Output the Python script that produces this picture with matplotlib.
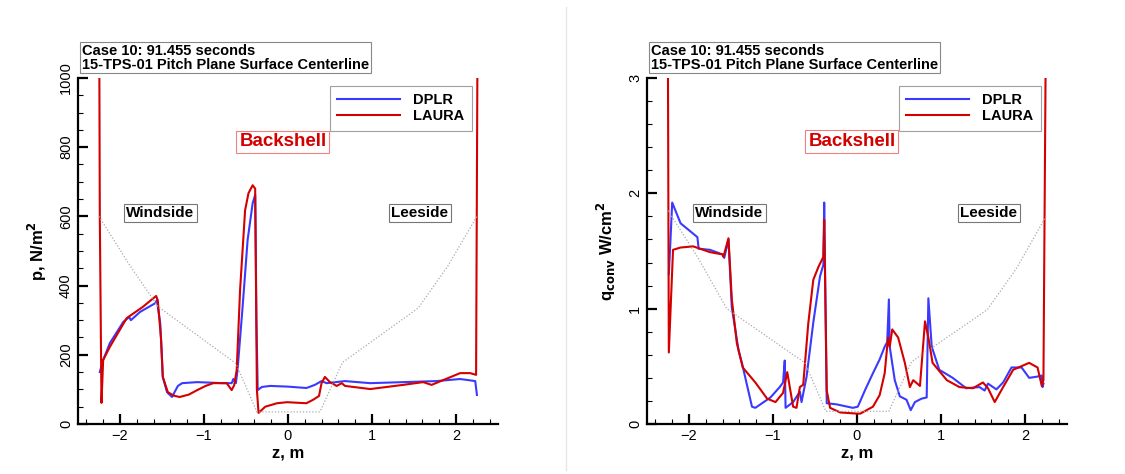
import matplotlib
matplotlib.use("Agg")
import matplotlib.pyplot as plt
from matplotlib.ticker import MultipleLocator
from matplotlib.lines import Line2D

plt.rcParams['font.family'] = ['Liberation Sans', 'DejaVu Sans']

# ---- pressure, left panel ----
z_dplr_p = [-2.24, -2.2, -2.12, -1.96, -1.89, -1.87, -1.76, -1.58, -1.56, -1.52, -1.49, -1.44,
            -1.38, -1.35, -1.31, -1.26, -1.08, -0.77, -0.67, -0.65, -0.62, -0.6, -0.54, -0.48,
            -0.42, -0.39, -0.375, -0.36, -0.31, -0.21, 0.0, 0.22, 0.32, 0.4, 0.46, 0.68, 0.98,
            1.77, 2.05, 2.23, 2.25]
p_dplr = [150, 185, 234, 295, 309, 300, 324, 349, 358, 290, 136, 92,
          78, 92, 110, 118, 121, 118, 118, 130, 118, 156, 338, 532,
          638, 662, 300, 98, 107, 110, 108, 104, 113, 124, 118, 124, 118,
          124, 130, 124, 84]

z_laura_p = [-2.245, -2.24, -2.22, -2.2, -2.12, -1.92, -1.73, -1.57, -1.55, -1.51, -1.49, -1.43,
             -1.36, -1.29, -1.18, -1.08, -0.98, -0.89, -0.73, -0.67, -0.64, -0.61, -0.57, -0.51,
             -0.47, -0.42, -0.39, -0.37, -0.35, -0.27, -0.13, -0.01, 0.22, 0.3, 0.37, 0.4, 0.44,
             0.5, 0.58, 0.64, 0.68, 0.98, 1.37, 1.61, 1.71, 1.85, 2.05, 2.17, 2.24, 2.255]
p_laura = [1000, 600, 61, 185, 223, 306, 338, 370, 358, 243, 136, 92,
           82, 78, 85, 98, 110, 118, 118, 98, 112, 156, 387, 618,
           667, 690, 680, 100, 32, 50, 60, 63, 60, 70, 81, 118, 136,
           121, 110, 118, 110, 101, 113, 121, 113, 127, 147, 147, 142, 1000]

# geometry outline (dotted)
z_geo = [-2.25, -1.9, -1.55, -0.62, -0.37, 0.38, 0.65, 1.55, 1.9, 2.25]
p_geo = [600, 465, 340, 175, 35, 35, 178, 335, 455, 600]

# ---- heating, right panel ----
z_dplr_q = [-2.24, -2.22, -2.2, -2.1, -1.9, -1.885, -1.75, -1.6, -1.58, -1.53, -1.49, -1.41,
            -1.37, -1.25, -1.21, -1.03, -0.92, -0.88, -0.86, -0.85, -0.76, -0.68, -0.66, -0.6,
            -0.52, -0.44, -0.40, -0.39, -0.36, -0.24, -0.05, 0.01, 0.1, 0.19, 0.27, 0.33, 0.36,
            0.38, 0.39, 0.45, 0.51, 0.59, 0.64, 0.69, 0.77, 0.83, 0.85, 0.89, 0.98, 1.14, 1.30,
            1.46, 1.52, 1.56, 1.6, 1.66, 1.74, 1.84, 1.96, 2.05, 2.14, 2.2, 2.21, 2.22]
q_dplr = [1.3, 1.6, 1.92, 1.74, 1.62, 1.52, 1.51, 1.47, 1.44, 1.6, 1.01, 0.64,
          0.53, 0.15, 0.14, 0.23, 0.32, 0.36, 0.55, 0.14, 0.19, 0.28, 0.19, 0.41,
          0.88, 1.28, 1.38, 1.92, 0.18, 0.17, 0.14, 0.15, 0.3, 0.44, 0.56, 0.67, 0.71,
          1.08, 0.67, 0.38, 0.24, 0.21, 0.12, 0.19, 0.22, 0.23, 1.09, 0.67, 0.47, 0.40, 0.31,
          0.32, 0.29, 0.35, 0.33, 0.3, 0.36, 0.49, 0.49, 0.40, 0.41, 0.42, 0.32, 0.35]

z_laura_q = [-2.25, -2.24, -2.19, -2.1, -1.95, -1.75, -1.6, -1.59, -1.53, -1.49, -1.43, -1.36,
             -1.21, -1.07, -0.97, -0.88, -0.83, -0.80, -0.76, -0.72, -0.68, -0.64, -0.58, -0.52,
             -0.46, -0.40, -0.39, -0.36, -0.32, -0.2, 0.0, 0.04, 0.19, 0.27, 0.33, 0.37, 0.39,
             0.42, 0.49, 0.57, 0.63, 0.67, 0.75, 0.81, 0.85, 0.90, 1.07, 1.22, 1.38, 1.5, 1.56,
             1.64, 1.74, 1.86, 2.05, 2.15, 2.2, 2.22, 2.245]
q_laura = [3.0, 0.62, 1.51, 1.53, 1.54, 1.49, 1.47, 1.45, 1.61, 1.08, 0.70, 0.49,
           0.36, 0.22, 0.19, 0.27, 0.45, 0.32, 0.15, 0.14, 0.32, 0.34, 0.87, 1.25,
           1.36, 1.45, 1.77, 0.29, 0.14, 0.10, 0.09, 0.09, 0.15, 0.25, 0.44, 0.75, 0.67,
           0.82, 0.75, 0.53, 0.32, 0.38, 0.33, 0.89, 0.75, 0.53, 0.38, 0.32, 0.31, 0.36, 0.31,
           0.19, 0.32, 0.47, 0.53, 0.49, 0.33, 0.38, 3.0]

q_geo = [1.85, 1.45, 1.0, 0.53, 0.11, 0.11, 0.54, 0.99, 1.35, 1.8]

blue = '#3a3aff'
red = '#d40000'
title = 'Case 10: 91.455 seconds\n15-TPS-01 Pitch Plane Surface Centerline'


def setup(ax, geo, ymax, ymajor, yminor, ylabel, ytxt, yback):
    ax.plot(z_geo, geo, color='#aaaaaa', lw=0.9, ls=(0, (1, 1.5)))
    ax.set_xlim(-2.5, 2.5)
    ax.set_ylim(0, ymax)
    for s in ['top', 'right']:
        ax.spines[s].set_visible(False)
    for s in ['left', 'bottom']:
        ax.spines[s].set_linewidth(1.6)
    ax.xaxis.set_major_locator(MultipleLocator(1))
    ax.xaxis.set_minor_locator(MultipleLocator(0.2))
    ax.yaxis.set_major_locator(MultipleLocator(ymajor))
    ax.yaxis.set_minor_locator(MultipleLocator(yminor))
    ax.tick_params(which='major', direction='in', length=7, width=1.6, labelsize=10.5)
    ax.tick_params(which='minor', direction='in', length=3.5, width=0.8)
    for lb in ax.get_yticklabels():
        lb.set_rotation(90)
        lb.set_va('center')
    ax.set_xlabel('z, m', fontsize=12, fontweight='bold', labelpad=2)
    ax.set_ylabel(ylabel, fontsize=12, fontweight='bold', labelpad=7)

    ax.text(0.01, 1.018, title, transform=ax.transAxes, fontsize=10.5, fontweight='bold',
            va='bottom', ha='left', linespacing=1.0,
            bbox=dict(boxstyle='square,pad=0.12', fc='white', ec='#888888', lw=0.8))
    ax.text(-0.06, yback, 'Backshell', color=red, fontsize=13.5, fontweight='bold',
            ha='center', va='center',
            bbox=dict(boxstyle='square,pad=0.15', fc='white', ec='#f08080', lw=0.8))
    ax.text(-1.52, ytxt, 'Windside', fontsize=11, fontweight='bold', ha='center', va='center',
            bbox=dict(boxstyle='square,pad=0.15', fc='white', ec='#777777', lw=0.8))
    ax.text(1.57, ytxt, 'Leeside', fontsize=11, fontweight='bold', ha='center', va='center',
            bbox=dict(boxstyle='square,pad=0.15', fc='white', ec='#777777', lw=0.8))

    handles = [Line2D([], [], color=blue, lw=1.5), Line2D([], [], color=red, lw=1.5)]
    leg = ax.legend(handles, ['DPLR', 'LAURA'], loc='upper right', bbox_to_anchor=(0.955, 0.998),
                    fancybox=False, edgecolor='#888888', handlelength=4.3, handletextpad=0.9,
                    borderpad=0.5, labelspacing=0.15, prop={'weight': 'bold', 'size': 10.5})
    leg.get_frame().set_linewidth(0.8)


fig = plt.figure(figsize=(11.25, 4.74), dpi=100)
ax1 = fig.add_axes([0.0693, 0.1055, 0.3733, 0.73])
ax2 = fig.add_axes([0.5751, 0.1055, 0.3733, 0.73])

ax1.plot(z_dplr_p, p_dplr, color=blue, lw=1.5)
ax1.plot(z_laura_p, p_laura, color=red, lw=1.5)
setup(ax1, p_geo, 1000, 200, 50, 'p, N/m$^\\mathbf{2}$', 610, 815)

ax2.plot(z_dplr_q, q_dplr, color=blue, lw=1.5)
ax2.plot(z_laura_q, q_laura, color=red, lw=1.5)
setup(ax2, q_geo, 3, 1, 0.2, 'q$_{\\mathbf{conv}}$ W/cm$^\\mathbf{2}$', 1.83, 2.45)

# divider between the two panels
fig.add_artist(Line2D([566 / 1125, 566 / 1125], [4 / 474, 467 / 474], color='#e6e6e6', lw=1))

fig.savefig('out.png', dpi=100)
